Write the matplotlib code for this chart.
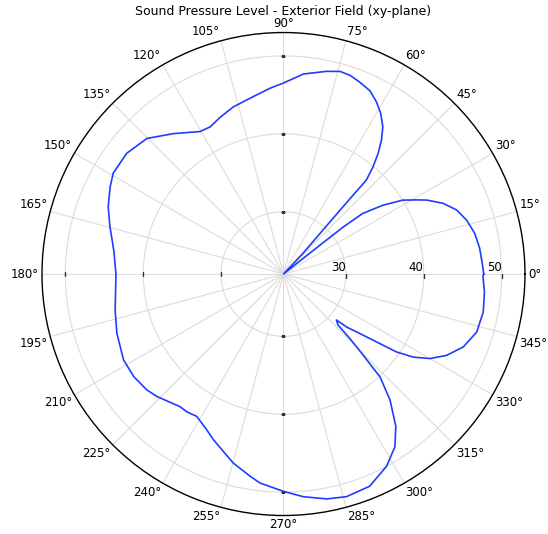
import matplotlib.pyplot as plt
import numpy as np

# curve: (angle in degrees, SPL in dB), in path order
angles = [0, 2.1, 7.45, 12.0, 16.4, 20.3, 23.9, 27.3, 29.2, 31.8, 34.7,
          37.4, 38.2, 38.3, 38.5, 38.5,
          47.0, 46.7, 48.1, 48.5, 48.6, 50.1, 51.9, 53.8, 56.0, 58.8, 61.6,
          64.7, 68.3, 71.5, 74.4, 78.0, 84.3, 90.1, 94.2, 99.7, 106.7,
          112.0, 116.5, 120.4, 128.1, 135.2, 142.4, 149.4, 153.3, 159.0,
          164.7, 172.0, 180.0, 192.1, 199.6, 208.2, 214.4, 220.3, 224.1,
          232.0, 234.9, 238.7, 243.8, 247.1, 255.1, 260.6, 263.6, 270.0,
          275.1, 280.9, 285.8, 292.1, 298.2, 302.8, 306.4, 310.2, 313.2,
          313.5, 314.5, 315.8, 316.9, 319.0, 320.0, 322.5, 324.2, 325.4,
          327.4, 330.0, 333.5, 337.9, 343.3, 349.2, 354.9, 359.4, 360.0]
spl = [47.7, 47.6, 47.4, 47.1, 46.5, 45.7, 44.4, 42.7, 41.5, 40.0, 37.5,
       34.8, 31.7, 28.4, 25.2, 22.0,
       22.0, 25.6, 29.6, 33.5, 38.1, 39.9, 41.7, 43.3, 44.8, 46.1, 47.1,
       48.0, 48.5, 48.9, 49.0, 48.6, 47.8, 46.5, 45.9, 45.1, 44.4,
       43.7, 43.1, 43.2, 44.9, 46.7, 47.4, 47.4, 46.9, 46.1,
       45.1, 44.0, 43.5, 44.1, 44.7, 45.3, 45.3, 45.0, 44.6,
       43.6, 43.6, 43.4, 44.3, 45.1, 47.1, 48.3, 49.0, 49.9,
       50.7, 51.4, 51.7, 51.4, 50.0, 48.4, 46.3, 43.2, 40.1,
       39.0, 36.6, 33.9, 31.6, 31.0, 32.6, 34.9, 37.3, 39.6,
       41.8, 43.7, 45.4, 46.9, 47.9, 48.1, 47.9, 47.6, 47.7]

rticks = [30, 40, 50]
theta_ticks = list(range(0, 360, 15))
rmin, rmax = 22, 53

fig = plt.figure(figsize=(5.48, 5.34), dpi=100)
ax = fig.add_axes([0.0766, 0.0346, 0.8814, 0.9045], projection='polar')

ax.plot(np.deg2rad(angles), spl, color='#1f3cff', lw=1.2)

# little tick marks on the radial gridlines
for a in [90, 270]:
    ax.plot(np.deg2rad([a] * len(rticks)), rticks, ls='none', marker='_',
            ms=3, mew=1, color='#333333')
ax.plot(np.deg2rad([180] * len(rticks)), rticks, ls='none', marker='|',
        ms=3, mew=1, color='#333333')
ax.plot(np.deg2rad([0] * len(rticks)), rticks, ls='none', marker=3,
        ms=3, mew=1, color='#333333')

ax.set_rlim(rmin, rmax)
ax.set_rticks(rticks)
ax.set_rlabel_position(0)
ax.set_thetagrids(theta_ticks, [f'{d}°' for d in theta_ticks], fontsize=8.5)
# matplotlib adds 7pt of its own to theta label padding
ax.tick_params(axis='x', pad=-5, length=0)

# theta labels sit just outside the circle, anchored by their nearest edge
for d, lbl in zip(theta_ticks, ax.get_xticklabels()):
    c, s = np.cos(np.deg2rad(d)), np.sin(np.deg2rad(d))
    lbl.set_ha('left' if c > 0.01 else ('right' if c < -0.01 else 'center'))
    lbl.set_va('bottom' if s > 0.01 else ('top' if s < -0.01 else 'center'))

for lbl in ax.get_yticklabels():
    lbl.set_fontsize(8.5)
    lbl.set_ha('right')
ax.grid(color='#dcdcdc', lw=0.8)
ax.spines['polar'].set_linewidth(1.0)

ax.set_title('Sound Pressure Level - Exterior Field (xy-plane)', fontsize=9,
             y=1.0445, va='center', pad=0)

plt.savefig('out.png')
